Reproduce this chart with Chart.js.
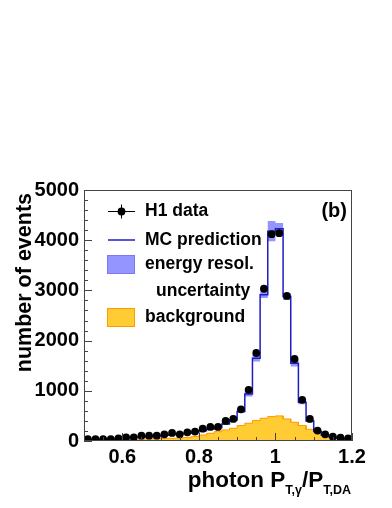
<!DOCTYPE html>
<html><head><meta charset="utf-8">
<script src="https://cdn.jsdelivr.net/npm/chart.js@4.4.1/dist/chart.umd.min.js"></script>
<style>html,body{margin:0;padding:0;background:#fff;}canvas{display:block;}</style>
</head><body>
<canvas id="c" width="392" height="508"></canvas>
<script>
// ---- data ----
const binCenters = [0.51,0.53,0.55,0.57,0.59,0.61,0.63,0.65,0.67,0.69,0.71,0.73,0.75,0.77,0.79,0.81,0.83,0.85,0.87,0.89,0.91,0.93,0.95,0.97,0.99,1.01,1.03,1.05,1.07,1.09,1.11,1.13,1.15,1.17,1.19];
const h1Data = [35,35,35,35,53,73,73,107,107,107,133,160,133,173,187,245,280,280,400,440,630,1020,1753,3033,4120,4140,2890,1633,820,440,207,133,87,67,50];
const mcPrediction = [30,32,35,40,48,58,68,80,92,100,115,128,140,155,175,205,240,270,340,420,590,935,1650,2915,4180,4230,2880,1550,770,400,190,115,80,55,40];
const mcUncertainty = [2,2,2,2,2,3,3,3,3,4,4,4,5,5,6,7,8,9,11,14,20,50,67,65,200,115,70,67,40,20,8,5,3,2,2];
const background = [10,12,15,18,22,26,30,35,40,45,50,55,62,70,90,120,153,187,220,253,307,353,407,453,487,500,440,373,307,233,187,110,70,45,30];
const xTickValues = [0.6,0.8,1.0,1.2];
const xTickLabels = ['0.6','0.8','1','1.2'];
const yTickValues = [0,1000,2000,3000,4000,5000];
const yTickLabels = ['0','1000','2000','3000','4000','5000'];
const legendLabels = ['H1 data','MC prediction','energy resol.','uncertainty','background'];
const panelLabel = '(b)';
const yTitle = 'number of events';
const xTitleParts = [['photon P',0],['T,\u03b3',1],['/P',0],['T,DA',1]];
const xRange = [0.5,1.2];
const yRange = [0,5000];
const xMinorStep = 0.05, yMinorStep = 200;

// ---- helpers ----
const halfBin = (binCenters[1]-binCenters[0])/2;
function steps(vals){
  const pts=[];
  vals.forEach((v,i)=>{pts.push({x:binCenters[i]-halfBin,y:v});pts.push({x:binCenters[i]+halfBin,y:v});});
  return pts;
}
const bandUp = mcPrediction.map((v,i)=>v+mcUncertainty[i]);
const bandLo = mcPrediction.map((v,i)=>v-mcUncertainty[i]);

const FONT = '"Liberation Sans", Arial, Helvetica, sans-serif';
const C_MC = '#1e1ec4', C_BAND = '#9595ff', C_BAND_EDGE = '#7a7af0', C_BG = '#ffcc33', C_BG_EDGE = '#ff9900';

const decor = {
  id:'decor',
  afterDraw(chart){
    const ctx=chart.ctx, xs=chart.scales.x, ys=chart.scales.y, a=chart.chartArea;
    ctx.save();
    // frame
    ctx.strokeStyle='#444'; ctx.lineWidth=1;
    ctx.strokeRect(a.left+0.5, a.top+0.5, a.right-a.left-1, a.bottom-a.top-1);
    // y ticks
    ctx.beginPath();
    for(let v=yRange[0]; v<=yRange[1]+1e-9; v+=yMinorStep){
      const y=Math.round(ys.getPixelForValue(v))+0.5;
      const len = (Math.abs(v%1000)<1e-6)?8:4;
      ctx.moveTo(a.left, y); ctx.lineTo(a.left+len, y);
    }
    // x ticks
    const n=Math.round((xRange[1]-xRange[0])/xMinorStep);
    for(let k=0;k<=n;k++){
      const v=xRange[0]+k*xMinorStep;
      const x=Math.round(xs.getPixelForValue(v))+0.5;
      const r=v/0.2; const len=(Math.abs(r-Math.round(r))<1e-6)?8:4;
      ctx.moveTo(x, a.bottom); ctx.lineTo(x, a.bottom-len);
    }
    ctx.stroke();

    // legend
    const lx=a.left+24, tx=a.left+61;
    ctx.fillStyle='#000'; ctx.strokeStyle='#000'; ctx.lineWidth=1;
    let y=a.top+21.5;
    ctx.beginPath(); ctx.moveTo(lx, y); ctx.lineTo(lx+27, y); ctx.moveTo(lx+13.5, y-7); ctx.lineTo(lx+13.5, y+7); ctx.stroke();
    ctx.beginPath(); ctx.arc(lx+13.5, y, 3.9, 0, Math.PI*2); ctx.fill();
    ctx.font='bold 17.5px '+FONT; ctx.textBaseline='middle'; ctx.textAlign='left';
    ctx.fillText(legendLabels[0], tx, y);
    y=a.top+50;
    ctx.strokeStyle=C_MC; ctx.lineWidth=1.5;
    ctx.beginPath(); ctx.moveTo(lx, y); ctx.lineTo(lx+27, y); ctx.stroke();
    ctx.fillText(legendLabels[1], tx, y);
    ctx.fillStyle=C_BAND; ctx.fillRect(lx-1, a.top+65, 28, 19);
    ctx.strokeStyle=C_BAND_EDGE; ctx.lineWidth=1; ctx.strokeRect(lx-0.5, a.top+65.5, 27, 18);
    ctx.fillStyle='#000';
    ctx.fillText(legendLabels[2], tx, a.top+74.5);
    ctx.fillText(legendLabels[3], tx+11, a.top+101);
    ctx.fillStyle=C_BG; ctx.fillRect(lx-1, a.top+118, 28, 19);
    ctx.strokeStyle=C_BG_EDGE; ctx.strokeRect(lx-0.5, a.top+118.5, 27, 18);
    ctx.fillStyle='#000';
    ctx.fillText(legendLabels[4], tx, a.top+127);

    // panel label
    ctx.font='bold 20px '+FONT; ctx.textAlign='right';
    ctx.fillText(panelLabel, a.right-5, a.top+21);

    // y title
    ctx.save();
    ctx.translate(31, a.top+3); ctx.rotate(-Math.PI/2);
    ctx.font='bold 21.5px '+FONT; ctx.textAlign='right'; ctx.textBaseline='alphabetic';
    ctx.fillText(yTitle, 0, 0);
    ctx.restore();

    // x title
    const mainF='bold 22.5px '+FONT, subF='bold 12.5px '+FONT;
    ctx.textAlign='left'; ctx.textBaseline='alphabetic';
    let total=0;
    xTitleParts.forEach(p=>{ctx.font=p[1]?subF:mainF; total+=ctx.measureText(p[0]).width;});
    let x=a.right-1-total; const base=487;
    xTitleParts.forEach(p=>{ctx.font=p[1]?subF:mainF; ctx.fillText(p[0], x, base+(p[1]?7:0)); x+=ctx.measureText(p[0]).width;});
    ctx.restore();
  }
};

new Chart(document.getElementById('c'), {
  type:'scatter',
  data:{datasets:[
    {label:'H1 data', data:binCenters.map((x,i)=>({x, y:h1Data[i]})), showLine:false,
     pointRadius:3.9, pointBackgroundColor:'#000', pointBorderWidth:0, borderColor:'#000'},
    {label:'MC prediction', data:steps(mcPrediction), showLine:true, borderColor:C_MC, borderWidth:1.5, pointRadius:0, fill:false},
    {label:'band up', data:steps(bandUp), showLine:true, borderWidth:0, borderColor:'rgba(0,0,0,0)', pointRadius:0, fill:{target:3}, backgroundColor:C_BAND},
    {label:'band lo', data:steps(bandLo), showLine:true, borderWidth:0, borderColor:'rgba(0,0,0,0)', pointRadius:0, fill:false},
    {label:'background', data:steps(background), showLine:true, borderColor:C_BG_EDGE, borderWidth:1, backgroundColor:C_BG, fill:'origin', pointRadius:0}
  ]},
  options:{
    responsive:false, animation:false, devicePixelRatio:1,
    layout:{padding:{top:190,right:40,left:0,bottom:0}},
    plugins:{legend:{display:false}, tooltip:{enabled:false}},
    scales:{
      x:{type:'linear', min:xRange[0], max:xRange[1],
        grid:{display:false, drawTicks:false}, border:{display:false},
        afterBuildTicks:(s)=>{s.ticks=xTickValues.map(v=>({value:v}));},
        afterFit:(s)=>{s.height=67;},
        ticks:{padding:4, autoSkip:false, maxRotation:0, color:'#000',
          font:{family:FONT, weight:'bold', size:20},
          callback:(v,i)=>xTickLabels[i]}},
      y:{type:'linear', min:yRange[0], max:yRange[1],
        grid:{display:false, drawTicks:false}, border:{display:false},
        afterBuildTicks:(s)=>{s.ticks=yTickValues.map(v=>({value:v}));},
        afterFit:(s)=>{s.width=84;},
        ticks:{padding:5, color:'#000', font:{family:FONT, weight:'bold', size:20},
          callback:(v,i)=>yTickLabels[i]}}
    }
  },
  plugins:[decor]
});
</script>
</body></html>
